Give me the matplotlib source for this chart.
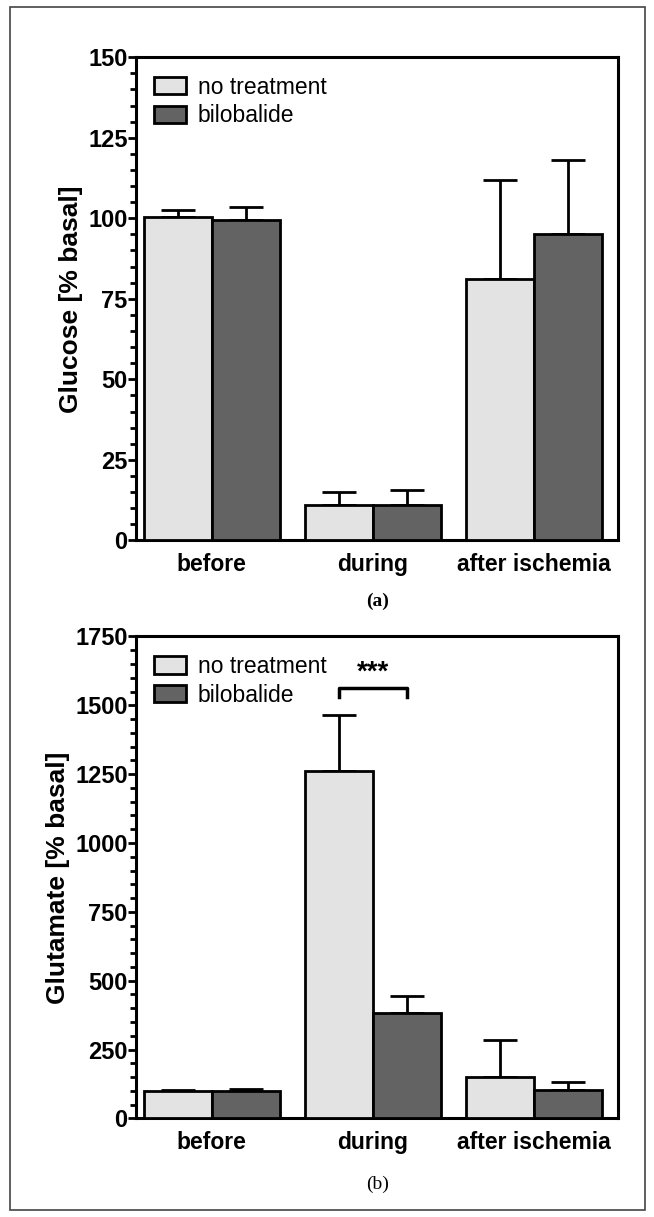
import matplotlib
matplotlib.use('Agg')
import matplotlib.pyplot as plt
from matplotlib.patches import Rectangle
from matplotlib.ticker import MultipleLocator
import numpy as np

plt.rcParams['font.family'] = ['Liberation Sans', 'DejaVu Sans']

groups = ['before', 'during', 'after ischemia']
series = ['no treatment', 'bilobalide']
colors = ['#e3e3e3', '#636363']

# Glucose [% basal], mean and upper error
glucose_ctrl = [100.5, 11, 81]
glucose_ctrl_err = [2, 4, 31]
glucose_bilo = [99.5, 11, 95]
glucose_bilo_err = [4, 4.5, 23]

# Glutamate [% basal]
glutamate_ctrl = [100, 1260, 150]
glutamate_ctrl_err = [5, 204, 135]
glutamate_bilo = [100, 384, 102]
glutamate_bilo_err = [8, 60, 30]

fig = plt.figure(figsize=(6.54, 12.17), dpi=100)
fig.patches.append(Rectangle((0.016, 0.006), 0.970, 0.988, transform=fig.transFigure,
                             fill=False, edgecolor='#444444', linewidth=1.2))

width = 0.42
x = np.arange(len(groups))


def draw_panel(ax, ctrl, ctrl_err, bilo, bilo_err, ymax, major, minor, ylabel):
    for i, (vals, errs) in enumerate([(ctrl, ctrl_err), (bilo, bilo_err)]):
        pos = x + (i - 0.5) * width
        ax.bar(pos, vals, width, color=colors[i], edgecolor='black', linewidth=2,
               label=series[i], zorder=3)
        ax.errorbar(pos, vals, yerr=[np.zeros(len(vals)), errs], fmt='none',
                    ecolor='black', elinewidth=2, capsize=12, capthick=2, zorder=2)
    ax.set_xlim(-0.47, 2.52)
    ax.set_ylim(0, ymax)
    ax.yaxis.set_major_locator(MultipleLocator(major))
    ax.yaxis.set_minor_locator(MultipleLocator(minor))
    ax.tick_params(axis='y', which='major', length=6, width=2, labelsize=17, pad=0)
    ax.tick_params(axis='y', which='minor', length=4, width=2)
    ax.tick_params(axis='x', length=0, labelsize=16.5, pad=9)
    for lab in ax.get_yticklabels() + ax.get_xticklabels():
        lab.set_fontweight('bold')
    ax.set_xticks(x)
    ax.set_xticklabels(groups)
    for sp in ax.spines.values():
        sp.set_linewidth(2.2)
    ax.set_ylabel(ylabel, fontsize=19, fontweight='bold', labelpad=4)
    ax.legend(loc='upper left', fontsize=16.5, frameon=False, handlelength=1.4,
              handleheight=0.8, handletextpad=0.5, labelspacing=0.25,
              borderaxespad=0.5, borderpad=0.3)


ax1 = fig.add_axes([0.208, 0.556, 0.737, 0.397])
draw_panel(ax1, glucose_ctrl, glucose_ctrl_err, glucose_bilo, glucose_bilo_err,
           150, 25, 5, 'Glucose [% basal]')
fig.text(0.578, 0.506, '(a)', ha='center', va='center', fontsize=14,
         family='Liberation Serif', fontweight='bold')

ax2 = fig.add_axes([0.208, 0.081, 0.737, 0.396])
draw_panel(ax2, glutamate_ctrl, glutamate_ctrl_err, glutamate_bilo, glutamate_bilo_err,
           1750, 250, 50, 'Glutamate [% basal]')
# significance bracket
bx0, bx1 = x[1] - width / 2, x[1] + width / 2
ax2.plot([bx0, bx0, bx1, bx1], [1530, 1563, 1563, 1530], color='black', lw=2.5)
ax2.text(x[1], 1570, '***', ha='center', va='bottom', fontsize=20, fontweight='bold')
fig.text(0.578, 0.027, '(b)', ha='center', va='center', fontsize=14,
         family='Liberation Serif')

fig.savefig('out.png', dpi=100)
